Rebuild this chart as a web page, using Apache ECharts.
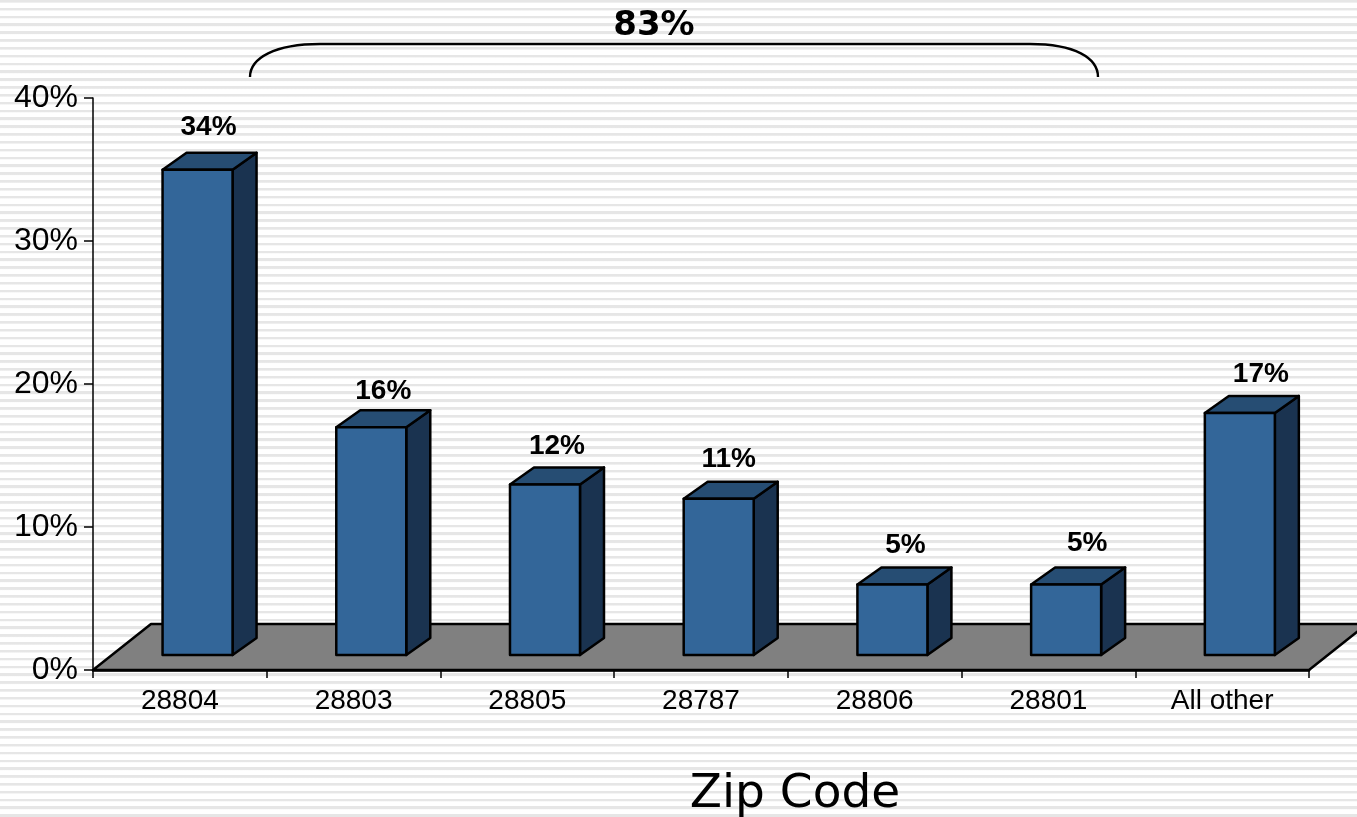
<!DOCTYPE html>
<html>
<head>
<meta charset="utf-8">
<style>
html,body{margin:0;padding:0;width:1357px;height:817px;overflow:hidden;background:#fff;}
body{background-image:repeating-linear-gradient(to bottom,#e6e6e6 0,#e6e6e6 2.2px,#f8f8f8 2.8px,#fff 3.4px,#fff 7.83px);}
#c{width:1357px;height:817px;}
</style>
<script src="https://cdn.jsdelivr.net/npm/echarts@6/dist/echarts.min.js"></script>
</head>
<body>
<div id="c"></div>
<script>
const categories = ['28804','28803','28805','28787','28806','28801','All other'];
const shareValues = [34,16,12,11,5,5,17];
const valueLabels = ['34%','16%','12%','11%','5%','5%','17%'];
const bracketLabel = '83%';
const axisName = 'Zip Code';

// 3-D look (pixels)
const FLOOR_LIFT = 15, BAR_SHIFT = 17.7, BAR_HALF = 35, DEPTH_X = 24, DEPTH_Y = 17, FLOOR_X = 58, FLOOR_Y = 46;
const labelNudgeX = [-1,0,0,-2,1,9,9];
const labelNudgeY = [-43,-36,-38,-39,-39,-41,-39];

const sans = '"Liberation Sans", Arial, sans-serif';
const wide = '"DejaVu Sans", Verdana, sans-serif';
const edge = {stroke:'#000', lineWidth:2.5, lineJoin:'round'};
const braceStyle = {fill:'none',stroke:'#000',lineWidth:2.4};

function poly(points, fill){
  return {type:'polygon', shape:{points}, style:Object.assign({fill}, edge)};
}

function renderFloor(params, api){
  const o = api.coord([0,0]);
  const cs = params.coordSys;
  const l = cs.x, r = cs.x + cs.width, b = o[1];
  return poly([[l,b],[l+FLOOR_X,b-FLOOR_Y],[r+FLOOR_X,b-FLOOR_Y],[r,b]],'#808080');
}

function renderBar(params, api){
  const i = api.value(0), v = api.value(1);
  const top = api.coord([i,v]), base = api.coord([i,0]);
  const cx = top[0] + BAR_SHIFT;
  const x0 = cx - BAR_HALF, x1 = cx + BAR_HALF;
  const yt = top[1] - FLOOR_LIFT + 1, yb = base[1] - FLOOR_LIFT;
  return {type:'group', children:[
    poly([[x1,yt],[x1+DEPTH_X,yt-DEPTH_Y],[x1+DEPTH_X,yb-DEPTH_Y],[x1,yb]],'#1a3350'),
    poly([[x0,yt],[x0+DEPTH_X,yt-DEPTH_Y],[x1+DEPTH_X,yt-DEPTH_Y],[x1,yt]],'#264d73'),
    poly([[x0,yt],[x1,yt],[x1,yb],[x0,yb]],'#336699'),
    {type:'text', style:{
      x:cx+DEPTH_X/2+labelNudgeX[i], y:yt+labelNudgeY[i],
      text:valueLabels[i], fill:'#000', align:'center', verticalAlign:'middle',
      font:'bold 28px '+sans}}
  ]};
}

const chart = echarts.init(document.getElementById('c'), null, {renderer:'canvas'});
chart.setOption({
  animation:false,
  backgroundColor:'transparent',
  grid:{left:93, top:98, width:1216, height:572},
  xAxis:{type:'category', data:categories, boundaryGap:true,
    axisLine:{lineStyle:{color:'#000',width:2.5}},
    axisTick:{show:true,alignWithLabel:false,length:8,lineStyle:{color:'#000',width:1.5}},
    axisLabel:{color:'#000',fontFamily:sans,fontSize:28,margin:17,interval:0},
    splitLine:{show:false}},
  yAxis:{type:'value',min:0,max:40,interval:10,
    axisLine:{show:true,lineStyle:{color:'#000',width:1.5}},
    axisTick:{show:true,length:9,lineStyle:{color:'#000',width:1.5}},
    axisLabel:{color:'#000',fontFamily:sans,fontSize:32,margin:15,padding:[8,0,0,0],formatter:'{value}%'},
    splitLine:{show:false}},
  series:[
    {type:'custom',z:3,renderItem:renderFloor,data:[[0,0]],silent:true},
    {type:'custom',z:4,renderItem:renderBar,encode:{x:0,y:1},
      data:shareValues.map((v,i)=>[i,v]),silent:true}
  ],
  graphic:[
    {type:'bezierCurve',z:10,shape:{x1:250,y1:77,cpx1:250,cpy1:58,cpx2:275,cpy2:44,x2:320,y2:44},style:braceStyle},
    {type:'line',z:10,shape:{x1:320,y1:44,x2:1030,y2:44},style:braceStyle},
    {type:'bezierCurve',z:10,shape:{x1:1030,y1:44,cpx1:1075,cpy1:44,cpx2:1098,cpy2:58,x2:1098,y2:77},style:braceStyle},
    {type:'text',z:10,style:{x:654,y:26,text:bracketLabel,fill:'#000',align:'center',verticalAlign:'middle',font:'bold 34px '+wide}},
    {type:'text',z:10,style:{x:795,y:795,text:axisName,fill:'#000',align:'center',verticalAlign:'middle',font:'47px '+wide}}
  ]
});
</script>
</body>
</html>
